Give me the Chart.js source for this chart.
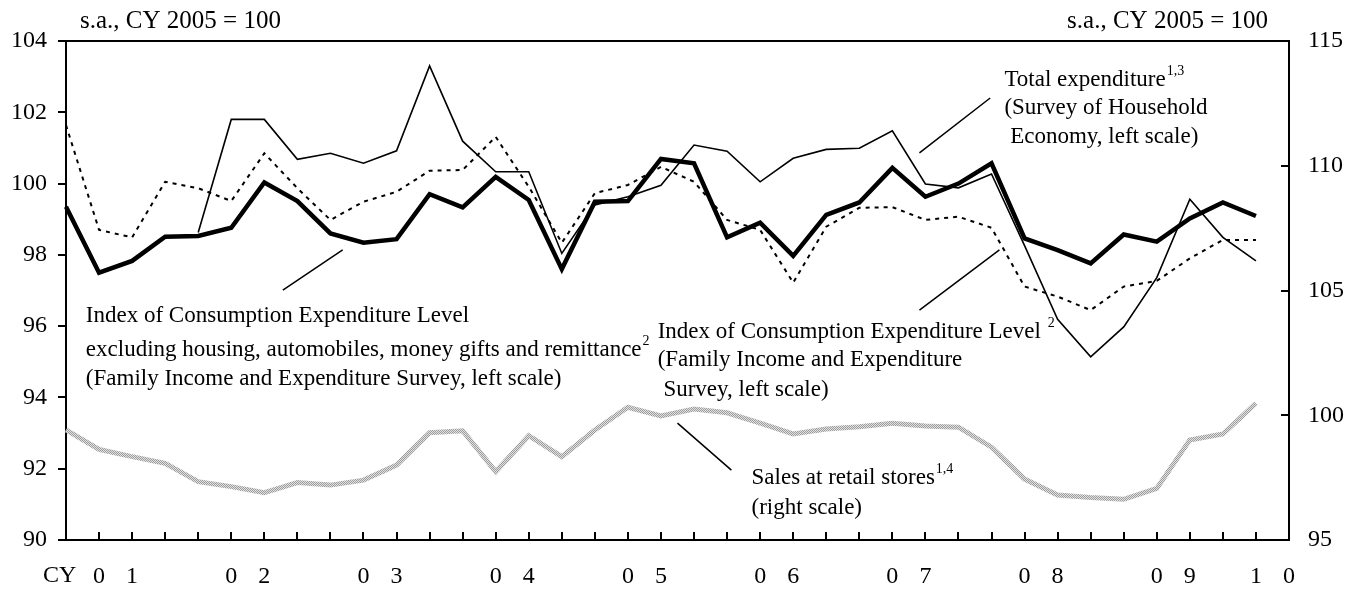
<!DOCTYPE html>
<html>
<head>
<meta charset="utf-8">
<title>Consumption indicators</title>
<script src="https://cdn.jsdelivr.net/npm/chart.js@4.4.1/dist/chart.umd.min.js"></script>
<style>
  html, body { margin: 0; padding: 0; background: #ffffff; }
  #container { width: 1362px; height: 590px; }
</style>
</head>
<body>
<div id="container"><canvas id="chart"></canvas></div>
<script>
'use strict'

// quarterly, 2001/Q1 .. 2010/Q1 (one empty slot at the end for the axis)
const YEARS = ['01', '02', '03', '04', '05', '06', '07', '08', '09', '10'];
const YEAR_LABEL_POS = [1, 5, 9, 13, 17, 21, 25, 29, 33, 36];

// Index of Consumption Expenditure Level (FIES), left scale
const ICEL = [99.35, 97.5, 97.83, 98.51, 98.53, 98.76, 100.03, 99.51, 98.6, 98.34,
  98.44, 99.7, 99.33, 100.19, 99.54, 97.6, 99.49, 99.51, 100.69, 100.57,
  98.49, 98.9, 97.97, 99.12, 99.47, 100.44, 99.63, 100.0, 100.57, 98.46,
  98.13, 97.76, 98.57, 98.37, 99.02, 99.47, 99.09];

// Total expenditure (Survey of Household Economy), left scale
const TOTAL_EXP = [null, null, null, null, 98.63, 101.8, 101.8, 100.68, 100.85, 100.57,
  100.92, 103.3, 101.19, 100.33, 100.33, 98.04, 99.4, 99.63, 99.95, 101.08,
  100.91, 100.05, 100.71, 100.96, 100.99, 101.48, 99.99, 99.88, 100.27, 98.26,
  96.19, 95.14, 95.98, 97.36, 99.56, 98.49, 97.83];

// ICEL excluding housing, automobiles, money gifts and remittance, left scale
const ICEL_EXCL = [101.64, 98.7, 98.49, 100.05, 99.87, 99.51, 100.85, 99.87, 98.98, 99.49,
  99.77, 100.36, 100.38, 101.31, 99.91, 98.34, 99.73, 99.96, 100.47, 100.05,
  98.98, 98.7, 97.22, 98.79, 99.32, 99.34, 98.98, 99.07, 98.76, 97.11,
  96.83, 96.45, 97.11, 97.27, 97.9, 98.42, 98.42];

// Sales at retail stores, right scale
const RETAIL = [99.41, 98.63, 98.34, 98.07, 97.34, 97.14, 96.9, 97.3, 97.2, 97.4,
  98.0, 99.3, 99.38, 97.74, 99.18, 98.34, 99.41, 100.32, 99.97, 100.25,
  100.1, 99.68, 99.25, 99.45, 99.54, 99.68, 99.57, 99.52, 98.72, 97.44,
  96.8, 96.7, 96.63, 97.07, 99.01, 99.25, 100.48];

const LEFT_TICKS = [90, 92, 94, 96, 98, 100, 102, 104];
const RIGHT_TICKS = [95, 100, 105, 110, 115];

const SERIF = '"Liberation Serif", "Times New Roman", serif';

const categories = [];
for (let i = 0; i < 38; i++) {
  categories.push('20' + YEARS[Math.min(Math.floor(i / 4), YEARS.length - 1)] + '/Q' + (i % 4 + 1));
}
const tickText = categories.map(() => '');
YEARS.forEach((y, k) => {
  tickText[YEAR_LABEL_POS[k]] = y[0];
  tickText[YEAR_LABEL_POS[k] + 1] = y[1];
});

// grey textured stroke for the retail line
function makePattern() {
  const p = document.createElement('canvas');
  p.width = 2; p.height = 2;
  const g = p.getContext('2d');
  g.fillStyle = '#e2e2e2'; g.fillRect(0, 0, 2, 2);
  g.fillStyle = '#9c9c9c'; g.fillRect(0, 0, 1, 1); g.fillRect(1, 1, 1, 1);
  return g.createPattern(p, 'repeat');
}

// text notes: [x index, left-scale value, lines]
const NOTES = [
  { x: 28.39, y: [102.9, 102.12, 101.3], lines: [['Total expenditure', '1,3'], ['(Survey of Household'], [' Economy, left scale)']] },
  { x: 0.6, y: [96.28, 95.33, 94.52], lines: [['Index of Consumption Expenditure Level'], ['excluding housing, automobiles, money gifts and remittance', '2'], ['(Family Income and Expenditure Survey, left scale)']] },
  { x: 17.9, y: [95.84, 95.05, 94.21], lines: [['Index of Consumption Expenditure Level ', '2'], ['(Family Income and Expenditure'], [' Survey, left scale)']] },
  { x: 20.74, y: [91.74, 90.9], lines: [['Sales at retail stores', '1,4'], ['(right scale)']] }
];
const LEADERS = [
  [25.82, 100.86, 27.96, 102.4],
  [6.56, 97.01, 8.37, 98.14],
  [25.82, 96.45, 28.24, 98.14],
  [18.5, 93.28, 20.13, 91.96]
];

const decorations = {
  id: 'decorations',
  afterDraw(chart) {
    const ctx = chart.ctx;
    const a = chart.chartArea;
    const xs = chart.scales.x;
    const yl = chart.scales.yLeft;
    const yr = chart.scales.yRight;
    ctx.save();
    ctx.strokeStyle = '#000';
    // top frame line
    ctx.lineWidth = 2;
    ctx.beginPath();
    ctx.moveTo(a.left - 1, a.top);
    ctx.lineTo(a.right + 1, a.top);
    ctx.stroke();
    // inward ticks on the bottom axis
    ctx.beginPath();
    for (let i = 1; i < categories.length - 1; i++) {
      const x = Math.round(xs.getPixelForValue(i));
      ctx.moveTo(x, a.bottom);
      ctx.lineTo(x, a.bottom - 8);
    }
    ctx.stroke();
    // inward ticks on the right axis
    ctx.beginPath();
    RIGHT_TICKS.slice(1, -1).forEach(v => {
      const y = Math.round(yr.getPixelForValue(v));
      ctx.moveTo(a.right, y);
      ctx.lineTo(a.right - 8, y);
    });
    ctx.stroke();
    // leader lines
    ctx.lineWidth = 1.5;
    ctx.beginPath();
    LEADERS.forEach(l => {
      ctx.moveTo(xs.getPixelForValue(l[0]), yl.getPixelForValue(l[1]));
      ctx.lineTo(xs.getPixelForValue(l[2]), yl.getPixelForValue(l[3]));
    });
    ctx.stroke();
    // texts
    ctx.fillStyle = '#000';
    ctx.textBaseline = 'middle';
    ctx.font = '25px ' + SERIF;
    ctx.textAlign = 'left';
    ctx.fillText('s.a., CY 2005 = 100', 80, 21);
    ctx.textAlign = 'right';
    ctx.fillText('s.a., CY 2005 = 100', 1268, 21);
    ctx.textAlign = 'left';
    ctx.font = '24px ' + SERIF;
    ctx.fillText('CY', 43, 576);
    NOTES.forEach(n => {
      const x = xs.getPixelForValue(n.x);
      n.lines.forEach((ln, k) => {
        const y = yl.getPixelForValue(n.y[k]);
        ctx.font = '23px ' + SERIF;
        ctx.fillText(ln[0], x, y);
        if (ln[1]) {
          const w = ctx.measureText(ln[0]).width;
          ctx.font = '14px ' + SERIF;
          ctx.fillText(ln[1], x + w + 1, y - 9);
        }
      });
    });
    ctx.restore();
  }
};

const chart = new Chart(document.getElementById('chart'), {
  type: 'line',
  data: {
    labels: categories,
    datasets: [
      { label: 'Index of Consumption Expenditure Level', data: ICEL, yAxisID: 'yLeft',
        borderColor: '#000', borderWidth: 4.5, order: 1 },
      { label: 'Total expenditure', data: TOTAL_EXP, yAxisID: 'yLeft',
        borderColor: '#000', borderWidth: 1.6, order: 2 },
      { label: 'ICEL excluding housing etc.', data: ICEL_EXCL, yAxisID: 'yLeft',
        borderColor: '#000', borderWidth: 2, borderDash: [4, 5], order: 3 },
      { label: 'Sales at retail stores', data: RETAIL, yAxisID: 'yRight',
        borderColor: makePattern(), borderWidth: 5, order: 4 }
    ]
  },
  options: {
    responsive: true,
    maintainAspectRatio: false,
    animation: false,
    layout: { padding: { top: 41, left: 0, right: 0, bottom: 0 } },
    elements: {
      point: { radius: 0 },
      line: { tension: 0, borderJoinStyle: 'miter', borderCapStyle: 'butt' }
    },
    plugins: { legend: { display: false }, tooltip: { enabled: false } },
    scales: {
      x: {
        type: 'category',
        offset: false,
        grid: { display: false, drawTicks: false },
        border: { display: true, color: '#000', width: 2 },
        ticks: {
          autoSkip: false, maxRotation: 0, padding: 22, color: '#000',
          font: { family: SERIF, size: 24 },
          callback: (v, i) => tickText[i]
        },
        afterFit: s => { s.height = 50; }
      },
      yLeft: {
        position: 'left',
        min: 90, max: 104,
        afterBuildTicks: s => { s.ticks = LEFT_TICKS.map(v => ({ value: v })); },
        grid: { drawOnChartArea: false, drawTicks: true, tickLength: 8, color: '#000', lineWidth: 2 },
        border: { display: true, color: '#000', width: 2 },
        ticks: { padding: 11, color: '#000', font: { family: SERIF, size: 24 } },
        afterFit: s => { s.width = 66; }
      },
      yRight: {
        position: 'right',
        min: 95, max: 115,
        afterBuildTicks: s => { s.ticks = RIGHT_TICKS.map(v => ({ value: v })); },
        grid: { display: false, drawTicks: false },
        border: { display: true, color: '#000', width: 2 },
        ticks: { padding: 19, color: '#000', font: { family: SERIF, size: 24 } },
        afterFit: s => { s.width = 73; }
      }
    }
  },
  plugins: [decorations]
});
</script>
</body>
</html>
